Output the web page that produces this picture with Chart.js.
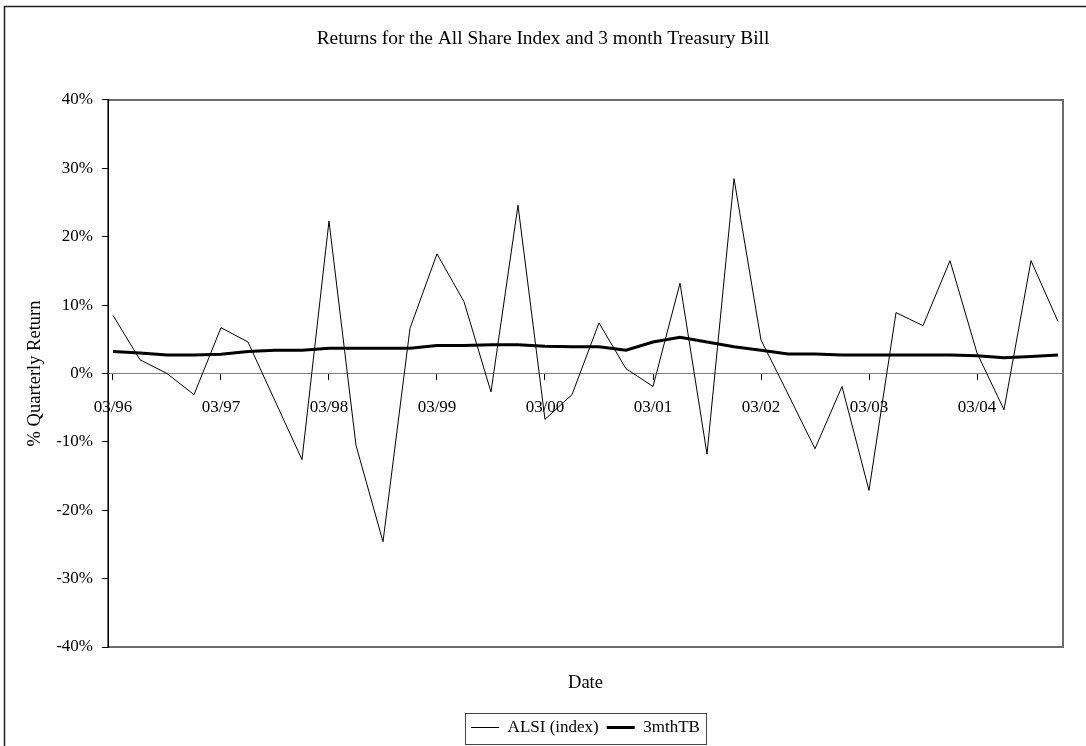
<!DOCTYPE html>
<html>
<head>
<meta charset="utf-8">
<title>Returns for the All Share Index and 3 month Treasury Bill</title>
<script src="https://cdn.jsdelivr.net/npm/chart.js@4"></script>
<style>
  html, body { margin: 0; padding: 0; background: #fff; }
  #wrap { width: 1086px; height: 746px; }
</style>
</head>
<body>
<div id="wrap"><canvas id="grafico" width="1086" height="746"></canvas></div>
<script>
// Quarterly returns, %
const trimestres = [
  "03/96", "06/96", "09/96", "12/96", "03/97", "06/97", "09/97", "12/97",
  "03/98", "06/98", "09/98", "12/98", "03/99", "06/99", "09/99", "12/99",
  "03/00", "06/00", "09/00", "12/00", "03/01", "06/01", "09/01", "12/01",
  "03/02", "06/02", "09/02", "12/02", "03/03", "06/03", "09/03", "12/03",
  "03/04", "06/04", "09/04", "12/04"
];

const alsi = [
  8.5, 2.0, 0.0, -3.1, 6.7, 4.6, -4.0, -12.6,
  22.3, -10.5, -24.6, 6.6, 17.5, 10.5, -2.7, 24.6,
  -6.7, -3.1, 7.4, 0.7, -1.9, 13.2, -11.8, 28.5,
  4.9, -3.0, -11.0, -1.9, -17.1, 8.9, 7.0, 16.5,
  3.0, -5.3, 16.5, 7.6
];

const letras = [
  3.2, 3.0, 2.7, 2.7, 2.8, 3.2, 3.4, 3.4,
  3.7, 3.7, 3.7, 3.7, 4.1, 4.1, 4.2, 4.2,
  4.0, 3.9, 3.9, 3.4, 4.6, 5.3, 4.6, 3.9,
  3.4, 2.85, 2.85, 2.7, 2.7, 2.7, 2.7, 2.7,
  2.6, 2.3, 2.5, 2.7
];

// only every fourth quarter gets a label on the date axis
const marcasX = [0, 4, 8, 12, 16, 20, 24, 28, 32];
const marcasY = [-40, -30, -20, -10, 0, 10, 20, 30, 40];

const fuente = "'Liberation Serif', 'Times New Roman', serif";

/*******************************************************************************/
// Marco exterior, borde del area del grafico y recuadro de la leyenda
const marcoPlugin = {
  id: "marco",
  beforeDraw(chart) {
    const c = chart.ctx;
    const a = chart.chartArea;
    c.save();
    c.fillStyle = "#fff";
    c.fillRect(0, 0, chart.width, chart.height);
    c.strokeStyle = "#222";
    c.lineWidth = 1.5;
    c.strokeRect(4.5, 6.5, chart.width + 20, chart.height + 20);
    c.strokeStyle = "#6b6b6b";
    c.lineWidth = 2;
    c.strokeRect(a.left, a.top, a.right - a.left, a.bottom - a.top);
    c.restore();
  },
  afterDraw(chart) {
    const cajas = chart.legend.legendHitBoxes;
    if (!cajas || !cajas.length) return;
    const primera = cajas[0];
    const ultima = cajas[cajas.length - 1];
    const x0 = Math.round(primera.left - 6) + 0.5;
    const x1 = Math.round(ultima.left + ultima.width + 6) + 0.5;
    const cy = primera.top + primera.height / 2;
    const c = chart.ctx;
    c.save();
    c.strokeStyle = "#444";
    c.lineWidth = 1;
    c.strokeRect(x0, Math.round(cy - 15) + 0.5, x1 - x0, 31);
    c.restore();
  }
};

function crearGrafico() {
  const ctx = document.getElementById("grafico").getContext("2d");
  new Chart(ctx, {
    type: "line",
    data: {
      datasets: [{
        label: "ALSI (index)",
        data: alsi.map((v, i) => ({ x: i, y: v })),
        borderColor: "#000",
        backgroundColor: "#000",
        borderWidth: 1,
        pointRadius: 0,
        pointStyle: "line",
        tension: 0
      }, {
        label: "3mthTB",
        data: letras.map((v, i) => ({ x: i, y: v })),
        borderColor: "#000",
        backgroundColor: "#000",
        borderWidth: 3,
        pointRadius: 0,
        pointStyle: "line",
        tension: 0
      }]
    },
    options: {
      responsive: false,
      animation: false,
      devicePixelRatio: 1,
      layout: { padding: 0 },
      scales: {
        x: {
          type: "linear",
          min: -0.185,
          max: trimestres.length - 1 + 0.185,
          position: { y: 0 },
          afterBuildTicks: (eje) => { eje.ticks = marcasX.map((v) => ({ value: v })); },
          ticks: {
            autoSkip: false,
            maxRotation: 0,
            padding: 18,
            color: "#000",
            font: { family: fuente, size: 17 },
            callback: (valor) => trimestres[valor]
          },
          grid: { drawOnChartArea: false, tickLength: 6, color: "#000" },
          border: { color: "#808080", width: 1 }
        },
        y: {
          min: -40,
          max: 40,
          afterBuildTicks: (eje) => { eje.ticks = marcasY.map((v) => ({ value: v })); },
          afterFit: (eje) => { eje.width = 108; },
          ticks: {
            padding: 9,
            color: "#000",
            font: { family: fuente, size: 17 },
            callback: (valor) => valor + "%"
          },
          grid: { drawOnChartArea: false, tickLength: 6, color: "#000" },
          border: { color: "#000", width: 1 },
          title: {
            display: true,
            text: "% Quarterly Return",
            color: "#000",
            font: { family: fuente, size: 18.5 },
            padding: { top: 24, bottom: 0 }
          }
        },
        // empty right margin so the title stays centred on the whole picture
        margen: {
          type: "linear",
          position: "right",
          display: true,
          ticks: { display: false },
          grid: { display: false },
          border: { display: false },
          afterFit: (eje) => { eje.width = 23; }
        }
      },
      plugins: {
        title: {
          display: true,
          text: "Returns for the All Share Index and 3 month Treasury Bill",
          color: "#000",
          font: { family: fuente, size: 19.4, weight: "normal" },
          padding: { top: 27.4, bottom: 49.3 }
        },
        subtitle: {
          display: true,
          position: "bottom",
          fullSize: false,
          text: "Date",
          color: "#000",
          font: { family: fuente, size: 18.5 },
          padding: { top: 24.9, bottom: 16.9 },
          weight: 500
        },
        legend: {
          display: true,
          position: "bottom",
          fullSize: false,
          weight: 2000,
          labels: {
            usePointStyle: true,
            pointStyleWidth: 28,
            padding: 8,
            color: "#000",
            font: { family: fuente, size: 17 }
          }
        },
        tooltip: { enabled: false }
      }
    },
    plugins: [marcoPlugin]
  });
}

crearGrafico();
</script>
</body>
</html>
